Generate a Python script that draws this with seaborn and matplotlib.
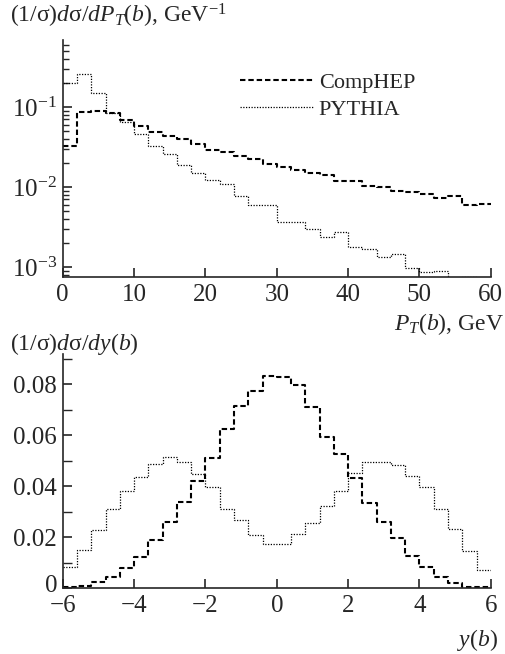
import numpy as np
import pandas as pd
import matplotlib
matplotlib.use("Agg")
import matplotlib.pyplot as plt
import matplotlib.transforms as mtransforms
import seaborn as sns
from matplotlib.ticker import MultipleLocator, LogLocator, NullFormatter, NullLocator, FuncFormatter

# ---------------- data ----------------
pt_bin_edges = np.arange(0, 62, 2)          # GeV, 30 bins of 2 GeV
comphep_pt = [0.032, 0.086, 0.090, 0.084, 0.069, 0.057, 0.049, 0.043, 0.040, 0.034,
              0.029, 0.027, 0.024, 0.0225, 0.0194, 0.0176, 0.0163, 0.0148, 0.014, 0.012,
              0.0117, 0.0104, 0.010, 0.0089, 0.0086, 0.0081, 0.0072, 0.0076, 0.0060, 0.0061]
pythia_pt = [0.20, 0.26, 0.147, 0.085, 0.064, 0.0456, 0.0326, 0.0256, 0.0188, 0.015,
             0.0122, 0.011, 0.0077, 0.0060, 0.0060, 0.0036, 0.0036, 0.0030, 0.0024, 0.0027,
             0.0018, 0.00166, 0.00134, 0.00145, 0.00097, 0.00087, 0.0009, 0.0007, 0.00075, 0.0007]

y_bin_edges = np.linspace(-6, 6, 31)        # rapidity, 30 bins of 0.4
comphep_y = [0.0003, 0.0008, 0.0022, 0.0043, 0.0077, 0.0122, 0.0189, 0.0258, 0.0339, 0.0421,
             0.0512, 0.0626, 0.0714, 0.0776, 0.0835, 0.0829, 0.0796, 0.0711, 0.0593, 0.0528,
             0.0433, 0.0336, 0.0260, 0.0195, 0.0126, 0.0081, 0.0043, 0.0019, 0.0005, 0.0003]
pythia_y = [0.0083, 0.0151, 0.0228, 0.0310, 0.0382, 0.0437, 0.0486, 0.0515, 0.0495, 0.0447,
            0.0397, 0.0312, 0.0267, 0.0208, 0.0173, 0.0173, 0.0214, 0.0256, 0.0322, 0.0380,
            0.0452, 0.0495, 0.0495, 0.0482, 0.0439, 0.0397, 0.0311, 0.0230, 0.0146, 0.0072]

series_names = ["CompHEP", "PYTHIA"]
pt_ticks = [0, 10, 20, 30, 40, 50, 60]
y_ticks = [-6, -4, -2, 0, 2, 4, 6]

# ---------------- style ----------------
sns.set_style("ticks")
plt.rcParams['font.family'] = ['Liberation Serif', 'DejaVu Serif']
plt.rcParams['mathtext.fontset'] = 'custom'
plt.rcParams['mathtext.rm'] = 'Liberation Serif'
plt.rcParams['mathtext.it'] = 'Liberation Serif:italic'
plt.rcParams['mathtext.bf'] = 'Liberation Serif:bold'
plt.rcParams['axes.linewidth'] = 1.2

FS = 17
TFS = 18
dash_style = dict(linestyle=(0, (2.6, 1.4)), linewidth=1.5)
dot_style = dict(linestyle=(0, (1.0, 1.2)), linewidth=0.9)

fig = plt.figure(figsize=(5.06, 6.54), dpi=100)
ax1 = fig.add_axes([0.124, 0.5765, 0.846, 0.362])
ax2 = fig.add_axes([0.124, 0.1009, 0.846, 0.358])


def steps(ax, edges, vals, label, style):
    df = pd.DataFrame({"x": np.asarray(edges, float), "y": list(vals) + [vals[-1]]})
    sns.lineplot(data=df, x="x", y="y", ax=ax, drawstyle="steps-post", estimator=None,
                 color="black", label=label, **style)


# ---------------- top panel ----------------
ax1.set_yscale("log")
steps(ax1, pt_bin_edges, comphep_pt, series_names[0], dash_style)
steps(ax1, pt_bin_edges, pythia_pt, series_names[1], dot_style)
ax1.set_xlim(0, 60)
ax1.set_ylim(7.5e-4, 0.68)
ax1.set_xticks(pt_ticks)
ax1.xaxis.set_minor_locator(NullLocator())
ax1.yaxis.set_major_locator(LogLocator(base=10, numticks=10))
ax1.yaxis.set_minor_locator(LogLocator(base=10, subs=np.arange(2, 10), numticks=20))
ax1.yaxis.set_minor_formatter(NullFormatter())
ax1.set_xlabel("")
ax1.set_ylabel("")
leg = ax1.legend(loc="upper left", bbox_to_anchor=(0.414, 0.866), frameon=False,
                 fontsize=16, handlelength=3.3, handletextpad=0.25, labelspacing=0.3,
                 borderpad=0, borderaxespad=0)

# ---------------- bottom panel ----------------
steps(ax2, y_bin_edges, comphep_y, None, dash_style)
steps(ax2, y_bin_edges, pythia_y, None, dot_style)
ax2.set_xlim(-6, 6)
ax2.set_ylim(0, 0.092)
ax2.set_xticks(y_ticks)
ax2.xaxis.set_minor_locator(NullLocator())
ax2.yaxis.set_major_locator(MultipleLocator(0.02))
ax2.yaxis.set_minor_locator(MultipleLocator(0.01))
ax2.yaxis.set_major_formatter(FuncFormatter(lambda v, p: "0" if abs(v) < 1e-9 else f"{v:.2f}"))
ax2.set_xlabel("")
ax2.set_ylabel("")
if ax2.get_legend() is not None:
    ax2.get_legend().remove()

for ax in (ax1, ax2):
    sns.despine(ax=ax)
    ax.tick_params(which="major", direction="in", length=6.5, width=1.2, labelsize=TFS)
    ax.tick_params(which="minor", direction="in", length=4.5, width=1.0)
    ax.tick_params(axis="x", pad=5)
    ax.tick_params(axis="y", pad=4)
ax2.tick_params(axis="y", which="minor", length=6.5)

# ---------------- labels ----------------
fig.text(10 / 506, 1 - 16 / 654, r"(1/σ)$d$σ/$dP_T$($b$), GeV$^{-1}$", fontsize=FS,
         ha="left", va="center")
fig.text(504 / 506, 1 - 324 / 654, r"$P_T$($b$), GeV", fontsize=FS, ha="right", va="center")
fig.text(10 / 506, 1 - 344 / 654, r"(1/σ)$d$σ/$dy$($b$)", fontsize=FS, ha="left", va="center")
fig.text(498 / 506, 1 - 640 / 654, r"$y$($b$)", fontsize=FS, ha="right", va="center")

# lift the "0" label of the lower panel a little, as in the original
fig.canvas.draw()
for tick in ax2.yaxis.get_major_ticks():
    if abs(tick.get_loc()) < 1e-9:
        lab = tick.label1
        lab.set_transform(lab.get_transform() +
                          mtransforms.ScaledTranslation(0, 5 / 100, fig.dpi_scale_trans))

fig.savefig("out.png", dpi=100)
